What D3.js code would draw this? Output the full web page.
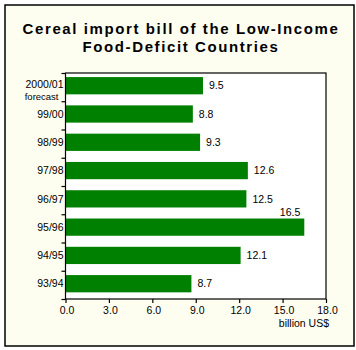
<!DOCTYPE html>
<html>
<head>
<meta charset="utf-8">
<script src="https://cdn.jsdelivr.net/npm/d3@7"></script>
<style>
  html, body { margin: 0; padding: 0; background: #ffffff; }
  svg { display: block; }
  text { font-family: "Liberation Sans", Arial, sans-serif; fill: #000; }
</style>
</head>
<body>
<svg id="chart" width="356" height="350"></svg>
<script>
const titleLines = ["Cereal import bill of the Low-Income", "Food-Deficit Countries"];
const categories = ["2000/01", "99/00", "98/99", "97/98", "96/97", "95/96", "94/95", "93/94"];
const categoryNotes = ["forecast", "", "", "", "", "", "", ""];
const values = [9.5, 8.8, 9.3, 12.6, 12.5, 16.5, 12.1, 8.7];
const xTicks = [0, 3, 6, 9, 12, 15, 18];
const xUnit = "billion US$";

const svg = d3.select("#chart");
const plot = { left: 65.5, right: 326, top: 73, bottom: 299 };

// outer background + border
svg.append("rect").attr("x", 5).attr("y", 5).attr("width", 349).attr("height", 341)
  .attr("fill", "#fefef0").attr("stroke", "#000").attr("stroke-width", 1.5);

// title
svg.append("g").selectAll("text").data(titleLines).join("text")
  .attr("x", 181).attr("y", (d, i) => 33.7 + i * 18)
  .attr("text-anchor", "middle")
  .style("font-size", "15px").style("font-weight", "bold").style("letter-spacing", "1.6px")
  .text(d => d);

// plot area
svg.append("rect").attr("x", plot.left).attr("y", plot.top)
  .attr("width", plot.right - plot.left).attr("height", plot.bottom - plot.top)
  .attr("fill", "#ffffff");

const x = d3.scaleLinear().domain([0, 18]).range([plot.left, plot.right]);
const y = d3.scaleBand().domain(categories).range([plot.top, plot.bottom])
  .paddingInner(0.39).paddingOuter(0.19).align(0.38);
const yEdge = d3.scaleLinear().domain([0, categories.length]).range([plot.top, plot.bottom]);

// bars
svg.append("g").selectAll("rect").data(values).join("rect")
  .attr("x", x(0)).attr("y", (d, i) => y(categories[i]))
  .attr("width", d => x(d) - x(0)).attr("height", y.bandwidth())
  .attr("fill", "#008000");

// value labels
svg.append("g").selectAll("text").data(values).join("text")
  .attr("x", d => d > 15 ? x(d) - 4 : x(d) + 6)
  .attr("y", (d, i) => d > 15 ? y(categories[i]) - 3 : y(categories[i]) + y.bandwidth() / 2)
  .attr("dy", d => d > 15 ? 0 : "0.36em")
  .attr("text-anchor", d => d > 15 ? "end" : "start")
  .style("font-size", "10.5px")
  .text(d => d.toFixed(1));

// plot border
svg.append("rect").attr("x", plot.left).attr("y", plot.top)
  .attr("width", plot.right - plot.left).attr("height", plot.bottom - plot.top)
  .attr("fill", "none").attr("stroke", "#000").attr("stroke-width", 1.2);

// x axis
const xAxis = svg.append("g").attr("transform", `translate(0,${plot.bottom})`)
  .call(d3.axisBottom(x).tickValues(xTicks).tickFormat(d3.format(".1f")).tickSize(4).tickPadding(4));
xAxis.select(".domain").remove();
xAxis.selectAll("line").attr("stroke", "#000").attr("stroke-width", 1.2);
xAxis.selectAll("text").style("font-size", "10.5px").attr("dx", "1px")
  .style("font-family", "'Liberation Sans', Arial, sans-serif");

svg.append("text").attr("x", 329).attr("y", 327).attr("text-anchor", "end")
  .style("font-size", "10.5px").text(xUnit);

// y axis ticks at band edges
const yAxis = svg.append("g").attr("transform", `translate(${plot.left},0)`)
  .call(d3.axisLeft(yEdge).tickValues(d3.range(categories.length + 1)).tickFormat("").tickSize(4));
yAxis.select(".domain").remove();
yAxis.selectAll("line").attr("stroke", "#000").attr("stroke-width", 1.2);

// y labels
svg.append("g").selectAll("text").data(categories).join("text")
  .attr("x", 63.5).attr("y", (d, i) => y(d) + y.bandwidth() / 2 - (categoryNotes[i] ? 1.5 : 0))
  .attr("dy", "0.36em").attr("text-anchor", "end")
  .style("font-size", "10.5px").text(d => d);

svg.append("g").selectAll("text").data(categoryNotes).join("text")
  .attr("x", 58.5).attr("y", (d, i) => y(categories[i]) + y.bandwidth() + 5.2)
  .attr("text-anchor", "end")
  .style("font-size", "9.5px").text(d => d);
</script>
</body>
</html>
